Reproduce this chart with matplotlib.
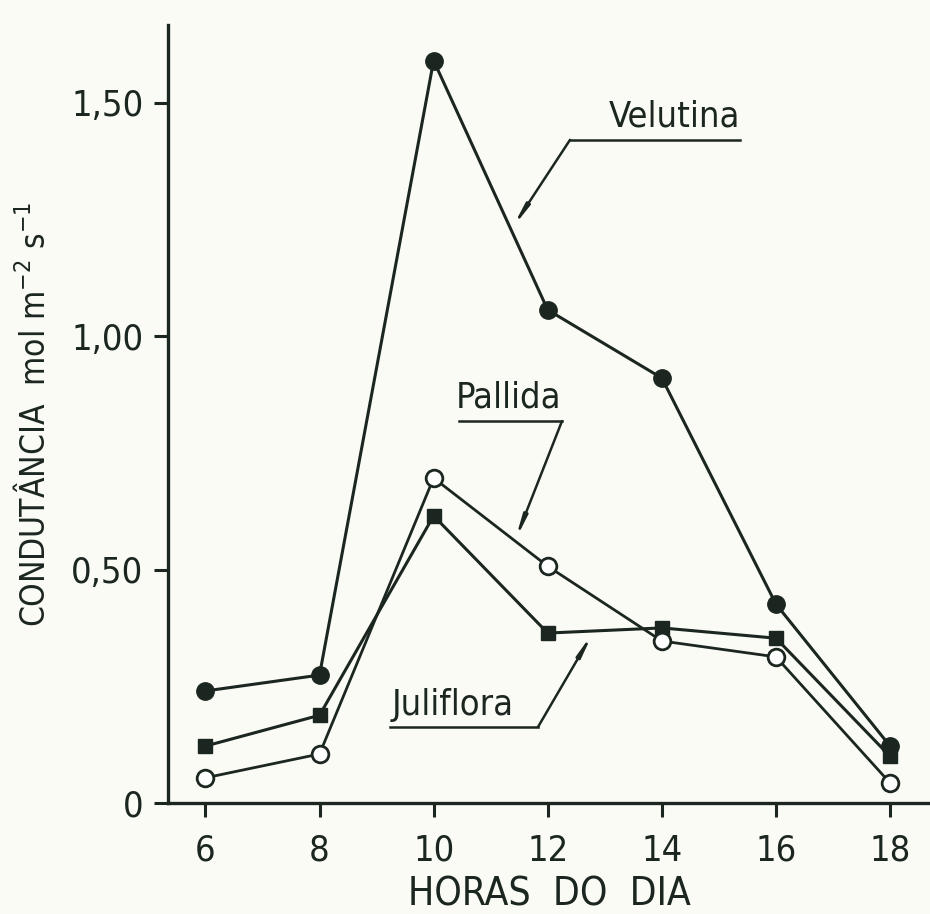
import matplotlib
matplotlib.use('Agg')
import matplotlib.pyplot as plt

# dados
horas = [6, 8, 10, 12, 14, 16, 18]
velutina = [0.24, 0.274, 1.59, 1.056, 0.91, 0.426, 0.122]
juliflora = [0.122, 0.188, 0.615, 0.364, 0.375, 0.353, 0.100]
pallida = [0.054, 0.105, 0.696, 0.507, 0.347, 0.313, 0.043]

y_ticks = [0, 0.5, 1.0, 1.5]
y_ticklabels = ['0', '0,50', '1,00', '1,50']

ink = '#1c2620'
plt.rcParams['font.family'] = ['DejaVu Sans']
plt.rcParams['font.stretch'] = 'condensed'

fig = plt.figure(figsize=(9.3, 9.14), dpi=100, facecolor='#fbfbf6')
ax = fig.add_axes([0.181, 0.1214, 0.819, 0.8512])
ax.set_facecolor('#fbfbf6')

ax.plot(horas, velutina, color=ink, lw=2.2, marker='o', ms=12.5, mfc=ink, mec=ink)
ax.plot(horas, juliflora, color=ink, lw=2.2, marker='s', ms=10, mfc=ink, mec=ink)
ax.plot(horas, pallida, color=ink, lw=2.0, marker='o', ms=12, mfc='white', mec=ink, mew=2.0)

ax.set_xlim(5.35, 18.7)
ax.set_ylim(0, 1.666)
ax.set_xticks(horas)
ax.set_xticklabels([str(h) for h in horas])
ax.set_yticks(y_ticks)
ax.set_yticklabels(y_ticklabels)

for s in ['top', 'right']:
    ax.spines[s].set_visible(False)
for s in ['left', 'bottom']:
    ax.spines[s].set_color(ink)
    ax.spines[s].set_linewidth(2.4)

ax.tick_params(axis='both', direction='out', length=10, width=2.2, color=ink,
               labelcolor=ink, labelsize=26)
ax.tick_params(axis='x', pad=12)
ax.tick_params(axis='y', pad=8)

ax.set_xlabel('HORAS  DO  DIA', fontsize=28, color=ink, labelpad=6)
ax.set_ylabel(r'CONDUTÂNCIA  mol m$^{-2}$ s$^{-1}$', fontsize=24, color=ink, labelpad=14)

# legendas com linha de chamada
rotulos = [
    ('Velutina', 14.23, 1.47, 12.39, 15.37, 1.42, 12.39, 11.38, 1.232),
    ('Pallida', 11.31, 0.868, 10.45, 12.25, 0.818, 12.25, 11.43, 0.563),
    ('Juliflora', 10.34, 0.21, 9.24, 11.83, 0.163, 11.83, 12.79, 0.364),
]
for nome, tx, ty, u0, u1, uy, ox, px, py in rotulos:
    ax.text(tx, ty, nome, fontsize=26, color=ink, ha='center', va='center')
    ax.plot([u0, u1], [uy, uy], color=ink, lw=1.8)
    ax.annotate('', xy=(px, py), xytext=(ox, uy),
                arrowprops=dict(arrowstyle='-|>,head_length=1.2,head_width=0.12',
                                color=ink, lw=1.8, shrinkA=0, shrinkB=0))

fig.savefig('out.png', dpi=100, facecolor=fig.get_facecolor())
